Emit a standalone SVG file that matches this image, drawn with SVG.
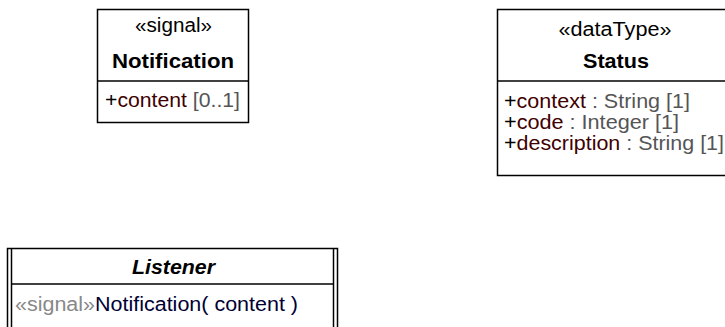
<svg xmlns="http://www.w3.org/2000/svg" width="725" height="327" viewBox="0 0 725 327">
<style>
.box{fill:#fff;stroke:#000;stroke-width:1.5}
.ln{stroke:#000;stroke-width:1.5;fill:none}
text{font-family:"Liberation Sans",Arial,sans-serif;font-size:20px;fill:#000}
.c{text-anchor:middle}
.b{font-weight:bold}
.bi{font-weight:bold;font-style:italic}
.nm{fill:#400000}
.ty{fill:#555}
.st{fill:#888}
.op{fill:#000033}
</style>
<rect width="725" height="327" fill="#fff"/>
<g id="Notification">
<rect class="box" x="97.5" y="9.5" width="151" height="113"/>
<line class="ln" x1="97.5" y1="81" x2="248.5" y2="81"/>
<text class="c" x="173.5" y="32" textLength="77" lengthAdjust="spacingAndGlyphs">«signal»</text>
<text class="c b" x="173" y="68" textLength="122" lengthAdjust="spacingAndGlyphs">Notification</text>
<text x="105" y="107" textLength="135" lengthAdjust="spacingAndGlyphs">+<tspan class="nm">content</tspan><tspan class="ty"> [0..1]</tspan></text>
</g>
<g id="Status">
<rect class="box" x="497.5" y="9.5" width="240" height="166"/>
<line class="ln" x1="497.5" y1="81" x2="737.5" y2="81"/>
<text class="c" x="615" y="36" textLength="113" lengthAdjust="spacingAndGlyphs">«dataType»</text>
<text class="c b" x="616" y="68" textLength="66" lengthAdjust="spacingAndGlyphs">Status</text>
<text x="504" y="108" textLength="186" lengthAdjust="spacingAndGlyphs">+<tspan class="nm">context</tspan><tspan class="ty"> : String [1]</tspan></text>
<text x="504" y="129" textLength="175" lengthAdjust="spacingAndGlyphs">+<tspan class="nm">code</tspan><tspan class="ty"> : Integer [1]</tspan></text>
<text x="504" y="150" textLength="220" lengthAdjust="spacingAndGlyphs">+<tspan class="nm">description</tspan><tspan class="ty"> : String [1]</tspan></text>
</g>
<g id="Listener">
<rect class="box" x="7.5" y="248.5" width="330" height="90"/>
<line class="ln" x1="11.5" y1="248.5" x2="11.5" y2="338"/>
<line class="ln" x1="333.5" y1="248.5" x2="333.5" y2="338"/>
<line class="ln" x1="11.5" y1="284" x2="333.5" y2="284"/>
<text class="c bi" x="173.5" y="274" textLength="83" lengthAdjust="spacingAndGlyphs">Listener</text>
<text x="15" y="311" textLength="283" lengthAdjust="spacingAndGlyphs"><tspan class="st">«signal»</tspan><tspan class="op">Notification( content )</tspan></text>
</g>
<g id="connectors"/>
</svg>
